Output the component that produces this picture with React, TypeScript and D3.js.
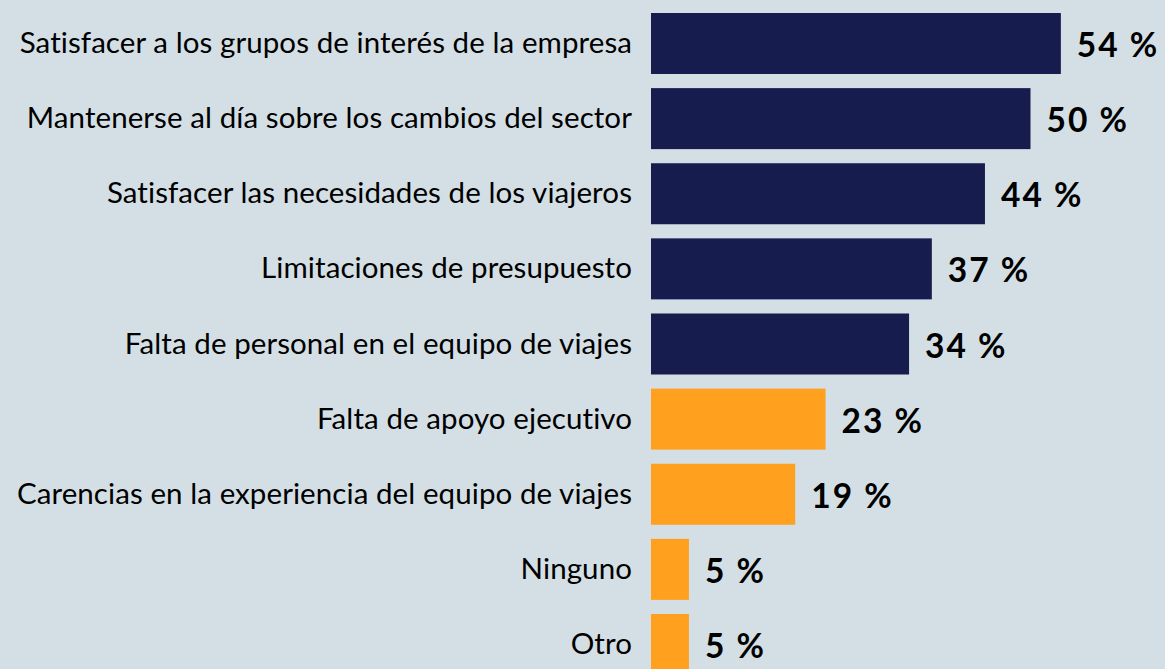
import * as d3 from "d3"
import { useEffect, useRef } from "react"

const categories = [
  "Satisfacer a los grupos de interés de la empresa",
  "Mantenerse al día sobre los cambios del sector",
  "Satisfacer las necesidades de los viajeros",
  "Limitaciones de presupuesto",
  "Falta de personal en el equipo de viajes",
  "Falta de apoyo ejecutivo",
  "Carencias en la experiencia del equipo de viajes",
  "Ninguno",
  "Otro",
]
const values = [54, 50, 44, 37, 34, 23, 19, 5, 5]
const groups = ["top", "top", "top", "top", "top", "low", "low", "low", "low"]

const W = 1165
const H = 669
const BG = "#d4dfe5"
const NAVY = "#161c4e"
const ORANGE = "#ffa01f"

export default function App() {
  const svgRef = useRef<SVGSVGElement>(null)

  useEffect(() => {
    if (!svgRef.current) return
    const svg = d3.select(svgRef.current)
    svg.selectAll("*").remove()

    const x0 = 651
    const x = d3.scaleLinear().domain([0, 100]).range([x0, x0 + 759])
    const y = d3
      .scaleBand<string>()
      .domain(categories)
      .range([13, 675])
      .paddingInner(0.188)
      .paddingOuter(0)

    const color = d3.scaleOrdinal<string, string>().domain(["top", "low"]).range([NAVY, ORANGE])

    svg.append("rect").attr("width", W).attr("height", H).attr("fill", BG)

    // bars
    svg
      .selectAll("rect.bar")
      .data(categories)
      .join("rect")
      .attr("class", "bar")
      .attr("x", x(0))
      .attr("y", (d) => y(d)!)
      .attr("width", (d, i) => x(values[i]) - x(0))
      .attr("height", y.bandwidth())
      .attr("fill", (d, i) => color(groups[i]))

    // thin axis line
    svg
      .append("line")
      .attr("x1", x0 - 0.5)
      .attr("x2", x0 - 0.5)
      .attr("y1", 0)
      .attr("y2", H)
      .attr("stroke", "#dcdcde")
      .attr("stroke-width", 1)

    // category labels
    svg
      .selectAll("text.cat")
      .data(categories)
      .join("text")
      .attr("class", "cat")
      .attr("x", 632)
      .attr("y", (d) => y(d)! + y.bandwidth() / 2 + 9.5)
      .attr("text-anchor", "end")
      .style("font-family", "Lato, 'Open Sans', sans-serif")
      .style("font-size", "29.5px")
      .style("letter-spacing", "0.08px")
      .attr("fill", "#000")
      .text((d) => d)

    // value labels
    svg
      .selectAll("text.val")
      .data(categories)
      .join("text")
      .attr("class", "val")
      .attr("x", (d, i) => x(values[i]) + 16)
      .attr("y", (d) => y(d)! + y.bandwidth() / 2 + 13.5)
      .style("font-family", "Lato, 'Open Sans', sans-serif")
      .style("font-size", "33.5px")
      .style("font-weight", "bold")
      .style("letter-spacing", "2px")
      .attr("fill", "#000")
      .text((d, i) => `${values[i]} %`)
  }, [])

  return (
    <div style={{ position: "fixed", left: 0, top: 0, width: W, height: H }}>
      <svg ref={svgRef} width={W} height={H} style={{ display: "block" }} />
    </div>
  )
}
